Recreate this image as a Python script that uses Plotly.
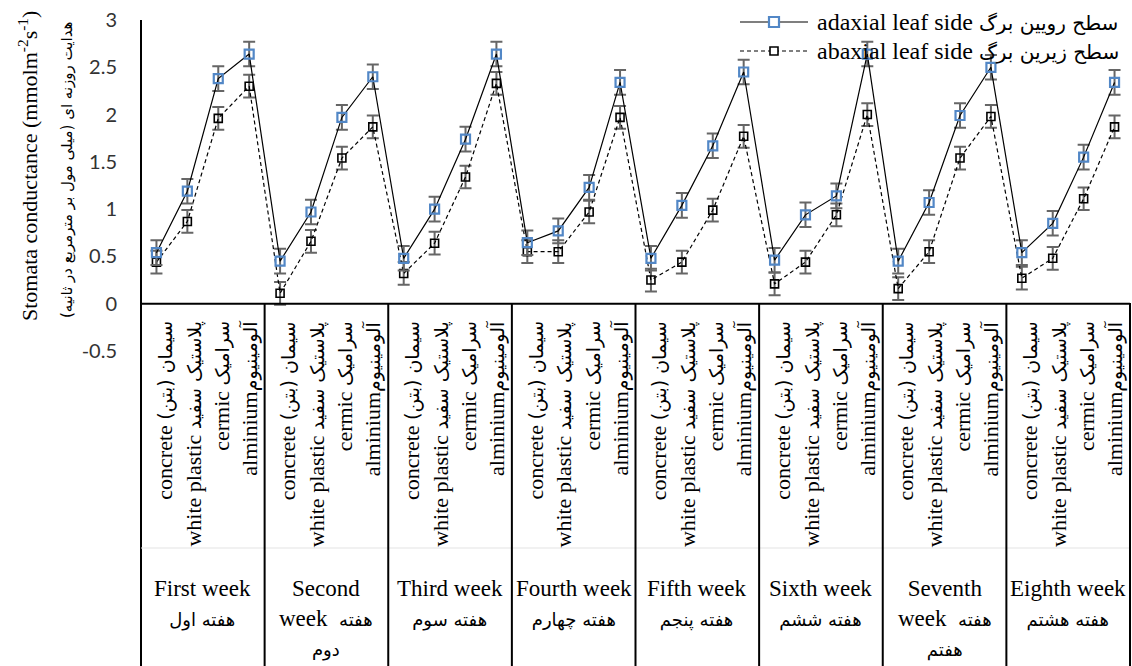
import plotly.graph_objects as go

# ---- data -------------------------------------------------------------
week_en = ["First week", "Second week", "Third week", "Fourth week",
           "Fifth week", "Sixth week", "Seventh week", "Eighth week"]
week_fa = ["هفته اول", "هفته دوم", "هفته سوم", "هفته چهارم",
           "هفته پنجم", "هفته ششم", "هفته هفتم", "هفته هشتم"]
wrapped_weeks = [1, 6]          # cells whose label breaks over three lines

material_en = ["concrete", "white plastic", "cermic", "alminium"]
material_fa = ["سیمان (بتن)", "پلاستیک سفید", "سرامیک", "آلومینیوم"]
material_gap = [" ", " ", " ", ""]

adaxial = [0.54, 1.19, 2.38, 2.64,
           0.45, 0.97, 1.97, 2.40,
           0.48, 1.00, 1.74, 2.64,
           0.645, 0.77, 1.23, 2.34,
           0.48, 1.04, 1.67, 2.45,
           0.46, 0.94, 1.14, 2.64,
           0.45, 1.07, 1.99, 2.50,
           0.54, 0.85, 1.55, 2.34]
abaxial = [0.44, 0.87, 1.96, 2.30,
           0.11, 0.66, 1.54, 1.87,
           0.32, 0.64, 1.34, 2.33,
           0.55, 0.55, 0.97, 1.97,
           0.25, 0.44, 0.99, 1.77,
           0.21, 0.44, 0.94, 2.00,
           0.16, 0.55, 1.54, 1.98,
           0.27, 0.48, 1.11, 1.87]
adaxial_err = [0.13] * 32
abaxial_err = [0.12] * 32

y_tick_vals = [-0.5, 0, 0.5, 1, 1.5, 2, 2.5, 3]
y_tick_text = ["-0.5", "0", "0.5", "1", "1.5", "2", "2.5", "3"]

legend_names = ["adaxial leaf side", "abaxial leaf side"]
legend_names_fa = ["سطح رویین برگ", "سطح زیرین برگ"]

y_title_en = "Stomata conductance (mmolm<sup>-2</sup>s<sup>-1</sup>)"
y_title_fa = "هدایت روزنه ای (میلی مول بر مترمربع در ثانیه)"

# ---- geometry ---------------------------------------------------------
W, H = 1132, 666
L, R, T, B = 141, 2, 20, 315
PW, PH = W - L - R, H - T - B

def px(xp):
    return (xp - L) / PW

def py(yp):
    return (H - B - yp) / PH

SERIF = "Liberation Serif"
FA = "DejaVu Sans"
RLM = "\u200f"
BLUE = "#5287C6"
ERR = "#666666"

def fa(text, size):
    return f'<span style="font-family:{FA};font-size:{size}px">{text}{RLM}</span>'

n_groups = len(week_en)
n_mat = len(material_en)
x = list(range(n_groups * n_mat))

fig = go.Figure()

fig.add_trace(go.Scatter(
    x=x, y=abaxial, mode="lines+markers", name=legend_names[1],
    line=dict(color="black", width=1.2, dash="4px,3px"),
    marker=dict(symbol="square-open", size=8, color="black", line=dict(width=1.6)),
    error_y=dict(type="data", array=abaxial_err, color=ERR, thickness=2, width=6),
))
fig.add_trace(go.Scatter(
    x=x, y=adaxial, mode="lines+markers", name=legend_names[0],
    line=dict(color="black", width=1.2),
    marker=dict(symbol="square-open", size=9, color=BLUE, line=dict(width=2.2)),
    error_y=dict(type="data", array=adaxial_err, color=ERR, thickness=2, width=6),
))

shapes = []
annotations = []

# value axis line running down through the category table
shapes.append(dict(type="line", xref="paper", yref="paper",
                   x0=0, x1=0, y0=py(T), y1=py(H), line=dict(color="black", width=2)))
# category axis at zero
shapes.append(dict(type="line", xref="paper", yref="y",
                   x0=0, x1=1, y0=0, y1=0, line=dict(color="black", width=2)))
# faint divider between the two label levels
shapes.append(dict(type="line", xref="paper", yref="paper",
                   x0=0, x1=1, y0=py(548), y1=py(548), line=dict(color="#e3e3e3", width=1)))
# group separators
for g in range(1, n_groups + 1):
    shapes.append(dict(type="line", xref="paper", yref="paper",
                       x0=g / n_groups, x1=g / n_groups, y0=py(303), y1=py(H),
                       line=dict(color="black", width=2)))

# material labels (vertical)
label_shift = [0.25, 0.17, 0.08, 0.0]
for g in range(n_groups):
    for m in range(n_mat):
        i = g * n_mat + m
        annotations.append(dict(
            x=i + label_shift[m], xref="x", y=py(319), yref="paper",
            text=material_en[m] + material_gap[m] + fa(material_fa[m], 19),
            textangle=-90, xanchor="center", yanchor="top", showarrow=False,
            font=dict(family=SERIF, size=22, color="black")))

# week labels
for g in range(n_groups):
    en, fw = week_en[g], week_fa[g]
    if g in wrapped_weeks:
        e1, e2 = en.split(" ")
        f1, f2 = fw.split(" ")
        text = f"{e1}<br>{e2}  {fa(f1, 18)}<br>{fa(f2, 18)}"
    else:
        text = f"{en}<br>{fa(fw, 18)}"
    annotations.append(dict(
        x=(g + 0.5) / n_groups, xref="paper", y=py(574), yref="paper",
        text=text, xanchor="center", yanchor="top", align="center", showarrow=False,
        font=dict(family=SERIF, size=23, color="black")))

# y-axis titles
annotations.append(dict(
    x=px(28), xref="paper", y=py(166), yref="paper", text=y_title_en,
    textangle=-90, xanchor="center", yanchor="middle", showarrow=False,
    font=dict(family=SERIF, size=22, color="black")))
annotations.append(dict(
    x=px(67), xref="paper", y=py(170), yref="paper", text=fa(y_title_fa, 15),
    textangle=-90, xanchor="center", yanchor="middle", showarrow=False,
    font=dict(family=SERIF, size=15, color="black")))

# legend
leg_rows = [22, 51]
for k, (yy, nm, nmf) in enumerate(zip(leg_rows, legend_names, legend_names_fa)):
    dash = "solid" if k == 0 else "4px,3px"
    shapes.append(dict(type="line", xref="paper", yref="paper",
                       x0=px(740), x1=px(808), y0=py(yy), y1=py(yy),
                       line=dict(color="black", width=1.2, dash=dash)))
    half = 5 if k == 0 else 4
    shapes.append(dict(type="rect", xref="paper", yref="paper",
                       x0=px(774 - half), x1=px(774 + half), y0=py(yy - half), y1=py(yy + half),
                       fillcolor="white",
                       line=dict(color=BLUE if k == 0 else "black", width=2.2 if k == 0 else 1.6)))
    annotations.append(dict(
        x=px(815), xref="paper", y=py(yy), yref="paper",
        text=nm + " " + fa(nmf, 20), xanchor="left", yanchor="middle", showarrow=False,
        font=dict(family=SERIF, size=24, color="black")))

fig.update_layout(
    width=W, height=H, margin=dict(l=L, r=R, t=T, b=B),
    paper_bgcolor="white", plot_bgcolor="white", showlegend=False,
    shapes=shapes, annotations=annotations,
    xaxis=dict(range=[-0.5, len(x) - 0.5], showticklabels=False, showgrid=False,
               zeroline=False, showline=False, ticks=""),
    yaxis=dict(range=[-0.5, 3], tickmode="array", tickvals=y_tick_vals, ticktext=y_tick_text,
               showgrid=False, zeroline=False, showline=False, ticks="", ticklabelstandoff=23,
               tickfont=dict(family="Lato", size=20, color="#333333")),
)

fig.write_html("out.html")
